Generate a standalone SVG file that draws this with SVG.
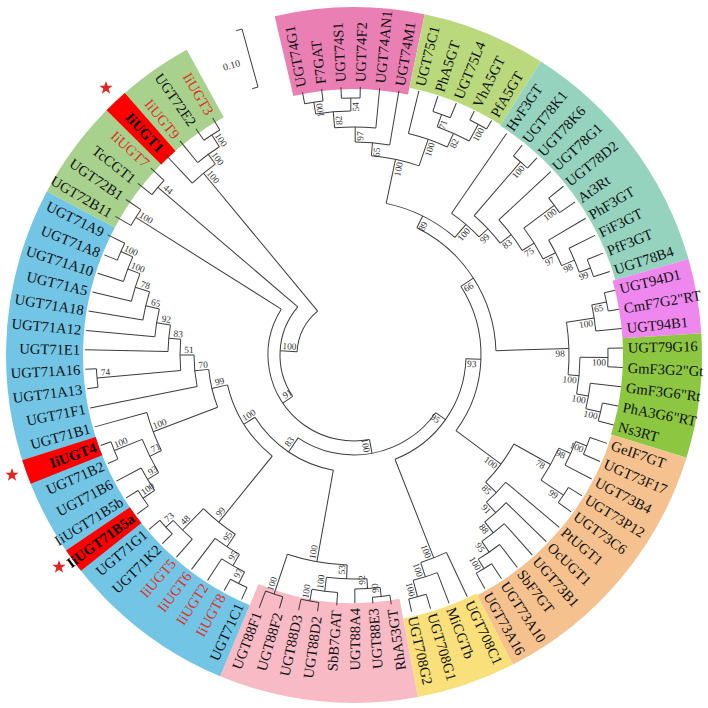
<svg xmlns="http://www.w3.org/2000/svg" width="708" height="708" viewBox="0 0 708 708">
<defs>
<style>
.c{fill:none;stroke:#3c3c3c;stroke-width:1}
.band{fill:none}
.t{font-family:"Liberation Serif","Times New Roman",serif;font-size:14.6px;fill:#111;dominant-baseline:central}
.f{text-anchor:end}
.r{fill:#dc3228}
.hb{font-weight:bold;fill:#000}
.bs{font-family:"Liberation Serif","Times New Roman",serif;font-size:9.4px;fill:#333;text-anchor:middle;dominant-baseline:central}
</style>
<polygon id="star" points="0,-7 1.65,-2.27 6.66,-2.16 2.66,0.87 4.11,5.66 0,2.8 -4.11,5.66 -2.66,0.87 -6.66,-2.16 -1.65,-2.27" fill="#e3231f"/>
</defs>
<rect width="708" height="708" fill="#fff"/>
<g id="bands" transform="translate(354,355)" class="band">
<circle r="307" stroke-width="82" stroke="#e97fb2" pathLength="360" stroke-dasharray="24.9 360" transform="rotate(-103.175)"/>
<circle r="310.5" stroke-width="75" stroke="#b9d97c" pathLength="360" stroke-dasharray="20.75 360" transform="rotate(-78.275)"/>
<circle r="310" stroke-width="76" stroke="#95d3bf" pathLength="360" stroke-dasharray="41.5 360" transform="rotate(-57.525)"/>
<circle r="308.5" stroke-width="79" stroke="#ee88ee" pathLength="360" stroke-dasharray="12.45 360" transform="rotate(-16.025)"/>
<circle r="308.5" stroke-width="79" stroke="#8dc641" pathLength="360" stroke-dasharray="20.75 360" transform="rotate(-3.575)"/>
<circle r="309" stroke-width="78" stroke="#f5c18e" pathLength="360" stroke-dasharray="45.65 360" transform="rotate(17.175)"/>
<circle r="308" stroke-width="80" stroke="#f9e07a" pathLength="360" stroke-dasharray="16.6 360" transform="rotate(62.825)"/>
<circle r="298" stroke-width="100" stroke="#f8bac5" pathLength="360" stroke-dasharray="33.2 360" transform="rotate(79.425)"/>
<circle r="309.5" stroke-width="77" stroke="#72c5e5" pathLength="360" stroke-dasharray="95.45 360" transform="rotate(112.625)"/>
<circle r="309.5" stroke-width="77" stroke="#a9d18e" pathLength="360" stroke-dasharray="33.2 360" transform="rotate(208.075)"/>
</g>
<g id="highlights" transform="translate(354,355)" class="band">
<circle r="309.5" stroke-width="77" stroke="#ff0000" pathLength="360" stroke-dasharray="4.15 360" transform="rotate(224.675)"/>
<circle r="309.5" stroke-width="77" stroke="#ff0000" pathLength="360" stroke-dasharray="4.15 360" transform="rotate(158.275)"/>
<circle r="309.5" stroke-width="77" stroke="#ff0000" pathLength="360" stroke-dasharray="4.15 360" transform="rotate(141.675)"/>
</g>
<g id="connectors" class="c" transform="translate(354,355)">
<circle r="256" pathLength="360" stroke-dasharray="4.15 360" transform="rotate(-101.1)"/>
<circle r="257" pathLength="360" stroke-dasharray="4.15 360" transform="rotate(-92.8)"/>
<circle r="244" pathLength="360" stroke-dasharray="8.3 360" transform="rotate(-99.03)"/>
<circle r="228" pathLength="360" stroke-dasharray="10.38 360" transform="rotate(-94.88)"/>
<circle r="213" pathLength="360" stroke-dasharray="9.34 360" transform="rotate(-89.69)"/>
<circle r="256" pathLength="360" stroke-dasharray="4.15 360" transform="rotate(-72.05)"/>
<circle r="262" pathLength="360" stroke-dasharray="4.15 360" transform="rotate(-63.75)"/>
<circle r="243" pathLength="360" stroke-dasharray="8.3 360" transform="rotate(-69.98)"/>
<circle r="228" pathLength="360" stroke-dasharray="10.37 360" transform="rotate(-76.2)"/>
<circle r="200" pathLength="360" stroke-dasharray="14 360" transform="rotate(-85.02)"/>
<circle r="252" pathLength="360" stroke-dasharray="4.15 360" transform="rotate(-22.25)"/>
<circle r="240" pathLength="360" stroke-dasharray="6.22 360" transform="rotate(-26.4)"/>
<circle r="226" pathLength="360" stroke-dasharray="7.26 360" transform="rotate(-30.55)"/>
<circle r="250" pathLength="360" stroke-dasharray="4.15 360" transform="rotate(-38.85)"/>
<circle r="212" pathLength="360" stroke-dasharray="9.86 360" transform="rotate(-36.78)"/>
<circle r="198" pathLength="360" stroke-dasharray="11.15 360" transform="rotate(-43)"/>
<circle r="255" pathLength="360" stroke-dasharray="4.15 360" transform="rotate(-51.3)"/>
<circle r="184" pathLength="360" stroke-dasharray="11.8 360" transform="rotate(-49.23)"/>
<circle r="172" pathLength="360" stroke-dasharray="12.12 360" transform="rotate(-55.45)"/>
<circle r="155" pathLength="360" stroke-dasharray="28.63 360" transform="rotate(-78.02)"/>
<circle r="258" pathLength="360" stroke-dasharray="4.15 360" transform="rotate(-13.95)"/>
<circle r="243" pathLength="360" stroke-dasharray="6.23 360" transform="rotate(-11.88)"/>
<circle r="254" pathLength="360" stroke-dasharray="4.15 360" transform="rotate(-1.5)"/>
<circle r="253" pathLength="360" stroke-dasharray="4.15 360" transform="rotate(10.95)"/>
<circle r="238" pathLength="360" stroke-dasharray="6.23 360" transform="rotate(6.8)"/>
<circle r="226" pathLength="360" stroke-dasharray="9.34 360" transform="rotate(0.58)"/>
<circle r="215" pathLength="360" stroke-dasharray="14.02 360" transform="rotate(-8.77)"/>
<circle r="142" pathLength="360" stroke-dasharray="61.95 360" transform="rotate(-63.71)"/>
<circle r="250" pathLength="360" stroke-dasharray="4.15 360" transform="rotate(19.25)"/>
<circle r="238" pathLength="360" stroke-dasharray="6.22 360" transform="rotate(21.33)"/>
<circle r="252" pathLength="360" stroke-dasharray="4.15 360" transform="rotate(31.7)"/>
<circle r="225" pathLength="360" stroke-dasharray="9.34 360" transform="rotate(24.44)"/>
<circle r="250" pathLength="360" stroke-dasharray="4.15 360" transform="rotate(56.6)"/>
<circle r="239" pathLength="360" stroke-dasharray="6.23 360" transform="rotate(52.45)"/>
<circle r="226" pathLength="360" stroke-dasharray="7.26 360" transform="rotate(48.3)"/>
<circle r="212" pathLength="360" stroke-dasharray="7.78 360" transform="rotate(44.15)"/>
<circle r="198" pathLength="360" stroke-dasharray="8.04 360" transform="rotate(40)"/>
<circle r="183" pathLength="360" stroke-dasharray="14.91 360" transform="rotate(29.11)"/>
<circle r="127" pathLength="360" stroke-dasharray="69.31 360" transform="rotate(-32.74)"/>
<circle r="250" pathLength="360" stroke-dasharray="4.15 360" transform="rotate(73.2)"/>
<circle r="233" pathLength="360" stroke-dasharray="6.23 360" transform="rotate(69.05)"/>
<circle r="218" pathLength="360" stroke-dasharray="7.27 360" transform="rotate(64.9)"/>
<circle r="112" pathLength="360" stroke-dasharray="66.61 360" transform="rotate(1.92)"/>
<circle r="243" pathLength="360" stroke-dasharray="4.15 360" transform="rotate(81.5)"/>
<circle r="234" pathLength="360" stroke-dasharray="6.22 360" transform="rotate(83.58)"/>
<circle r="250" pathLength="360" stroke-dasharray="4.15 360" transform="rotate(98.1)"/>
<circle r="238" pathLength="360" stroke-dasharray="6.23 360" transform="rotate(93.95)"/>
<circle r="224" pathLength="360" stroke-dasharray="10.38 360" transform="rotate(86.69)"/>
<circle r="252" pathLength="360" stroke-dasharray="4.15 360" transform="rotate(106.4)"/>
<circle r="210" pathLength="360" stroke-dasharray="16.6 360" transform="rotate(91.88)"/>
<circle r="256" pathLength="360" stroke-dasharray="4.15 360" transform="rotate(114.7)"/>
<circle r="243" pathLength="360" stroke-dasharray="6.22 360" transform="rotate(116.78)"/>
<circle r="230" pathLength="360" stroke-dasharray="7.26 360" transform="rotate(119.89)"/>
<circle r="255" pathLength="360" stroke-dasharray="4.15 360" transform="rotate(135.45)"/>
<circle r="245" pathLength="360" stroke-dasharray="6.23 360" transform="rotate(131.3)"/>
<circle r="215" pathLength="360" stroke-dasharray="10.9 360" transform="rotate(123.52)"/>
<circle r="255" pathLength="360" stroke-dasharray="4.15 360" transform="rotate(143.75)"/>
<circle r="241" pathLength="360" stroke-dasharray="6.22 360" transform="rotate(145.83)"/>
<circle r="258" pathLength="360" stroke-dasharray="4.15 360" transform="rotate(156.2)"/>
<circle r="228" pathLength="360" stroke-dasharray="9.34 360" transform="rotate(148.94)"/>
<circle r="215" pathLength="360" stroke-dasharray="10.89 360" transform="rotate(153.61)"/>
<circle r="255" pathLength="360" stroke-dasharray="4.15 360" transform="rotate(201.85)"/>
<circle r="242" pathLength="360" stroke-dasharray="6.23 360" transform="rotate(197.7)"/>
<circle r="229" pathLength="360" stroke-dasharray="7.27 360" transform="rotate(193.55)"/>
<circle r="214" pathLength="360" stroke-dasharray="7.79 360" transform="rotate(189.4)"/>
<circle r="200" pathLength="360" stroke-dasharray="8.05 360" transform="rotate(185.25)"/>
<circle r="186" pathLength="360" stroke-dasharray="8.18 360" transform="rotate(181.1)"/>
<circle r="258" pathLength="360" stroke-dasharray="4.15 360" transform="rotate(172.8)"/>
<circle r="174" pathLength="360" stroke-dasharray="10.31 360" transform="rotate(174.88)"/>
<circle r="160" pathLength="360" stroke-dasharray="11.39 360" transform="rotate(168.65)"/>
<circle r="146" pathLength="360" stroke-dasharray="15.29 360" transform="rotate(159.06)"/>
<circle r="130" pathLength="360" stroke-dasharray="37.74 360" transform="rotate(128.97)"/>
<circle r="117" pathLength="360" stroke-dasharray="47.66 360" transform="rotate(100.18)"/>
<circle r="100" pathLength="360" stroke-dasharray="88.78 360" transform="rotate(35.23)"/>
<circle r="262" pathLength="360" stroke-dasharray="4.15 360" transform="rotate(235.05)"/>
<circle r="248" pathLength="360" stroke-dasharray="6.23 360" transform="rotate(230.9)"/>
<circle r="236" pathLength="360" stroke-dasharray="7.26 360" transform="rotate(226.75)"/>
<circle r="258" pathLength="360" stroke-dasharray="4.15 360" transform="rotate(218.45)"/>
<circle r="258" pathLength="360" stroke-dasharray="4.15 360" transform="rotate(210.15)"/>
<circle r="86" pathLength="360" stroke-dasharray="132.61 360" transform="rotate(79.62)"/>
<circle r="74" pathLength="360" stroke-dasharray="74.6 360" transform="rotate(145.93)"/>
<circle r="57" pathLength="360" stroke-dasharray="47.15 360" transform="rotate(183.23)"/>
<line x1="256" x2="268" transform="rotate(-101.1)"/>
<line x1="256" x2="268" transform="rotate(-96.95)"/>
<line x1="257" x2="268" transform="rotate(-92.8)"/>
<line x1="257" x2="268" transform="rotate(-88.65)"/>
<line x1="228" x2="268" transform="rotate(-84.5)"/>
<line x1="213" x2="268" transform="rotate(-80.35)"/>
<line x1="228" x2="272" transform="rotate(-76.2)"/>
<line x1="256" x2="272" transform="rotate(-72.05)"/>
<line x1="256" x2="272" transform="rotate(-67.9)"/>
<line x1="262" x2="272" transform="rotate(-63.75)"/>
<line x1="262" x2="272" transform="rotate(-59.6)"/>
<line x1="172" x2="269" transform="rotate(-55.45)"/>
<line x1="255" x2="269" transform="rotate(-51.3)"/>
<line x1="255" x2="269" transform="rotate(-47.15)"/>
<line x1="198" x2="269" transform="rotate(-43)"/>
<line x1="250" x2="269" transform="rotate(-38.85)"/>
<line x1="250" x2="269" transform="rotate(-34.7)"/>
<line x1="226" x2="269" transform="rotate(-30.55)"/>
<line x1="240" x2="269" transform="rotate(-26.4)"/>
<line x1="252" x2="269" transform="rotate(-22.25)"/>
<line x1="252" x2="269" transform="rotate(-18.1)"/>
<line x1="258" x2="269" transform="rotate(-13.95)"/>
<line x1="258" x2="269" transform="rotate(-9.8)"/>
<line x1="243" x2="269" transform="rotate(-5.65)"/>
<line x1="254" x2="269" transform="rotate(-1.5)"/>
<line x1="254" x2="269" transform="rotate(2.65)"/>
<line x1="238" x2="269" transform="rotate(6.8)"/>
<line x1="253" x2="269" transform="rotate(10.95)"/>
<line x1="253" x2="269" transform="rotate(15.1)"/>
<line x1="250" x2="268" transform="rotate(19.25)"/>
<line x1="250" x2="268" transform="rotate(23.4)"/>
<line x1="238" x2="268" transform="rotate(27.55)"/>
<line x1="252" x2="268" transform="rotate(31.7)"/>
<line x1="252" x2="268" transform="rotate(35.85)"/>
<line x1="198" x2="268" transform="rotate(40)"/>
<line x1="212" x2="268" transform="rotate(44.15)"/>
<line x1="226" x2="268" transform="rotate(48.3)"/>
<line x1="239" x2="268" transform="rotate(52.45)"/>
<line x1="250" x2="268" transform="rotate(56.6)"/>
<line x1="250" x2="268" transform="rotate(60.75)"/>
<line x1="218" x2="267" transform="rotate(64.9)"/>
<line x1="233" x2="266" transform="rotate(69.05)"/>
<line x1="250" x2="265" transform="rotate(73.2)"/>
<line x1="250" x2="263" transform="rotate(77.35)"/>
<line x1="243" x2="252" transform="rotate(81.5)"/>
<line x1="243" x2="249" transform="rotate(85.65)"/>
<line x1="234" x2="248" transform="rotate(89.8)"/>
<line x1="238" x2="251" transform="rotate(93.95)"/>
<line x1="250" x2="259" transform="rotate(98.1)"/>
<line x1="250" x2="261" transform="rotate(102.25)"/>
<line x1="252" x2="264" transform="rotate(106.4)"/>
<line x1="252" x2="270" transform="rotate(110.55)"/>
<line x1="256" x2="269" transform="rotate(114.7)"/>
<line x1="256" x2="269" transform="rotate(118.85)"/>
<line x1="243" x2="269" transform="rotate(123)"/>
<line x1="230" x2="269" transform="rotate(127.15)"/>
<line x1="245" x2="269" transform="rotate(131.3)"/>
<line x1="255" x2="269" transform="rotate(135.45)"/>
<line x1="255" x2="269" transform="rotate(139.6)"/>
<line x1="255" x2="269" transform="rotate(143.75)"/>
<line x1="255" x2="269" transform="rotate(147.9)"/>
<line x1="241" x2="269" transform="rotate(152.05)"/>
<line x1="258" x2="269" transform="rotate(156.2)"/>
<line x1="258" x2="269" transform="rotate(160.35)"/>
<line x1="215" x2="269" transform="rotate(164.5)"/>
<line x1="160" x2="269" transform="rotate(168.65)"/>
<line x1="258" x2="269" transform="rotate(172.8)"/>
<line x1="258" x2="269" transform="rotate(176.95)"/>
<line x1="186" x2="269" transform="rotate(181.1)"/>
<line x1="200" x2="269" transform="rotate(185.25)"/>
<line x1="214" x2="269" transform="rotate(189.4)"/>
<line x1="229" x2="269" transform="rotate(193.55)"/>
<line x1="242" x2="269" transform="rotate(197.7)"/>
<line x1="255" x2="269" transform="rotate(201.85)"/>
<line x1="255" x2="274" transform="rotate(206)"/>
<line x1="258" x2="276" transform="rotate(210.15)"/>
<line x1="258" x2="276" transform="rotate(214.3)"/>
<line x1="258" x2="276" transform="rotate(218.45)"/>
<line x1="258" x2="276" transform="rotate(222.6)"/>
<line x1="236" x2="276" transform="rotate(226.75)"/>
<line x1="248" x2="276" transform="rotate(230.9)"/>
<line x1="262" x2="276" transform="rotate(235.05)"/>
<line x1="262" x2="276" transform="rotate(239.2)"/>
<line x1="244" x2="256" transform="rotate(-99.03)"/>
<line x1="244" x2="257" transform="rotate(-90.73)"/>
<line x1="228" x2="244" transform="rotate(-94.88)"/>
<line x1="213" x2="228" transform="rotate(-89.69)"/>
<line x1="200" x2="213" transform="rotate(-85.02)"/>
<line x1="243" x2="256" transform="rotate(-69.98)"/>
<line x1="243" x2="262" transform="rotate(-61.68)"/>
<line x1="228" x2="243" transform="rotate(-65.83)"/>
<line x1="200" x2="228" transform="rotate(-71.02)"/>
<line x1="155" x2="200" transform="rotate(-78.02)"/>
<line x1="240" x2="252" transform="rotate(-20.18)"/>
<line x1="226" x2="240" transform="rotate(-23.29)"/>
<line x1="212" x2="226" transform="rotate(-26.92)"/>
<line x1="212" x2="250" transform="rotate(-36.78)"/>
<line x1="198" x2="212" transform="rotate(-31.85)"/>
<line x1="184" x2="198" transform="rotate(-37.43)"/>
<line x1="184" x2="255" transform="rotate(-49.23)"/>
<line x1="172" x2="184" transform="rotate(-43.33)"/>
<line x1="155" x2="172" transform="rotate(-49.39)"/>
<line x1="142" x2="155" transform="rotate(-63.71)"/>
<line x1="243" x2="258" transform="rotate(-11.88)"/>
<line x1="215" x2="243" transform="rotate(-8.77)"/>
<line x1="226" x2="254" transform="rotate(0.58)"/>
<line x1="238" x2="253" transform="rotate(13.03)"/>
<line x1="226" x2="238" transform="rotate(9.92)"/>
<line x1="215" x2="226" transform="rotate(5.25)"/>
<line x1="142" x2="215" transform="rotate(-1.76)"/>
<line x1="127" x2="142" transform="rotate(-32.74)"/>
<line x1="238" x2="250" transform="rotate(21.33)"/>
<line x1="225" x2="238" transform="rotate(24.44)"/>
<line x1="225" x2="252" transform="rotate(33.78)"/>
<line x1="183" x2="225" transform="rotate(29.11)"/>
<line x1="239" x2="250" transform="rotate(58.68)"/>
<line x1="226" x2="239" transform="rotate(55.56)"/>
<line x1="212" x2="226" transform="rotate(51.93)"/>
<line x1="198" x2="212" transform="rotate(48.04)"/>
<line x1="183" x2="198" transform="rotate(44.02)"/>
<line x1="127" x2="183" transform="rotate(36.57)"/>
<line x1="112" x2="127" transform="rotate(1.92)"/>
<line x1="233" x2="250" transform="rotate(75.28)"/>
<line x1="218" x2="233" transform="rotate(72.17)"/>
<line x1="112" x2="218" transform="rotate(68.53)"/>
<line x1="100" x2="112" transform="rotate(35.23)"/>
<line x1="234" x2="243" transform="rotate(83.58)"/>
<line x1="224" x2="234" transform="rotate(86.69)"/>
<line x1="238" x2="250" transform="rotate(100.18)"/>
<line x1="224" x2="238" transform="rotate(97.07)"/>
<line x1="210" x2="224" transform="rotate(91.88)"/>
<line x1="210" x2="252" transform="rotate(108.48)"/>
<line x1="117" x2="210" transform="rotate(100.18)"/>
<line x1="243" x2="256" transform="rotate(116.78)"/>
<line x1="230" x2="243" transform="rotate(119.89)"/>
<line x1="215" x2="230" transform="rotate(123.52)"/>
<line x1="245" x2="255" transform="rotate(137.53)"/>
<line x1="215" x2="245" transform="rotate(134.42)"/>
<line x1="130" x2="215" transform="rotate(128.97)"/>
<line x1="241" x2="255" transform="rotate(145.83)"/>
<line x1="228" x2="241" transform="rotate(148.94)"/>
<line x1="228" x2="258" transform="rotate(158.28)"/>
<line x1="215" x2="228" transform="rotate(153.61)"/>
<line x1="146" x2="215" transform="rotate(159.06)"/>
<line x1="242" x2="255" transform="rotate(203.93)"/>
<line x1="229" x2="242" transform="rotate(200.82)"/>
<line x1="214" x2="229" transform="rotate(197.19)"/>
<line x1="200" x2="214" transform="rotate(193.3)"/>
<line x1="186" x2="200" transform="rotate(189.28)"/>
<line x1="174" x2="186" transform="rotate(185.19)"/>
<line x1="174" x2="258" transform="rotate(174.88)"/>
<line x1="160" x2="174" transform="rotate(180.04)"/>
<line x1="146" x2="160" transform="rotate(174.35)"/>
<line x1="130" x2="146" transform="rotate(166.71)"/>
<line x1="117" x2="130" transform="rotate(147.84)"/>
<line x1="100" x2="117" transform="rotate(124.01)"/>
<line x1="86" x2="100" transform="rotate(79.62)"/>
<line x1="248" x2="262" transform="rotate(237.13)"/>
<line x1="236" x2="248" transform="rotate(234.01)"/>
<line x1="57" x2="236" transform="rotate(230.38)"/>
<line x1="74" x2="258" transform="rotate(220.53)"/>
<line x1="86" x2="258" transform="rotate(212.23)"/>
<line x1="74" x2="86" transform="rotate(145.93)"/>
<line x1="57" x2="74" transform="rotate(183.23)"/>
</g>
<g id="bootstrap" class="bs" transform="translate(354,355)">
<text transform="rotate(-99.03) translate(247,5)">100</text>
<text transform="rotate(-90.73) translate(248,5)">54</text>
<text transform="rotate(-94.88) translate(235,5)">82</text>
<text transform="rotate(-89.69) translate(219,5)">97</text>
<text transform="rotate(-85.02) translate(204,5)">65</text>
<text transform="rotate(-69.98) translate(247,5)">71</text>
<text transform="rotate(-61.68) translate(253,5)">100</text>
<text transform="rotate(-65.83) translate(234,5)">82</text>
<text transform="rotate(-71.02) translate(219,5)">100</text>
<text transform="rotate(-78.02) translate(191,5)">100</text>
<text transform="rotate(-20.18) translate(243,5)">99</text>
<text transform="rotate(-23.29) translate(231,5)">98</text>
<text transform="rotate(-26.92) translate(217,5)">97</text>
<text transform="rotate(-36.78) translate(241,5)">100</text>
<text transform="rotate(-31.85) translate(203,5)">75</text>
<text transform="rotate(-37.43) translate(189,5)">83</text>
<text transform="rotate(-49.23) translate(246,5)">100</text>
<text transform="rotate(-43.33) translate(175,5)">99</text>
<text transform="rotate(-49.39) translate(163,5)">100</text>
<text transform="rotate(-63.71) translate(146,5)">89</text>
<text transform="rotate(-11.88) translate(249,5)">65</text>
<text transform="rotate(-8.77) translate(234,5)">100</text>
<text transform="rotate(0.58) translate(245,5)">100</text>
<text transform="rotate(13.03) translate(244,5)">100</text>
<text transform="rotate(9.92) translate(229,5)">100</text>
<text transform="rotate(5.25) translate(217,5)">100</text>
<text transform="rotate(-1.76) translate(206,5)">98</text>
<text transform="rotate(-32.74) translate(133,5)">66</text>
<text transform="rotate(21.33) translate(241,5)">100</text>
<text transform="rotate(24.44) translate(229,5)">98</text>
<text transform="rotate(33.78) translate(243,5)">99</text>
<text transform="rotate(29.11) translate(216,5)">78</text>
<text transform="rotate(58.68) translate(241,5)">100</text>
<text transform="rotate(55.56) translate(230,5)">95</text>
<text transform="rotate(51.93) translate(217,5)">88</text>
<text transform="rotate(48.04) translate(203,5)">91</text>
<text transform="rotate(44.02) translate(189,5)">85</text>
<text transform="rotate(36.57) translate(174,5)">100</text>
<text transform="rotate(1.92) translate(118,5)">93</text>
<text transform="rotate(75.28) translate(241,5)">100</text>
<text transform="rotate(72.17) translate(224,5)">100</text>
<text transform="rotate(68.53) translate(209,5)">100</text>
<text transform="rotate(35.23) translate(103,5)">95</text>
<text transform="rotate(79.62) translate(91,5)">100</text>
<text transform="rotate(83.58) translate(234,5) rotate(180)">90</text>
<text transform="rotate(86.69) translate(225,5) rotate(180)">92</text>
<text transform="rotate(100.18) translate(241,5) rotate(180)">100</text>
<text transform="rotate(97.07) translate(229,5) rotate(180)">100</text>
<text transform="rotate(91.88) translate(215,5) rotate(180)">53</text>
<text transform="rotate(108.48) translate(243,5) rotate(180)">100</text>
<text transform="rotate(100.18) translate(201,5) rotate(180)">100</text>
<text transform="rotate(116.78) translate(247,5) rotate(180)">97</text>
<text transform="rotate(119.89) translate(234,5) rotate(180)">95</text>
<text transform="rotate(123.52) translate(221,5) rotate(180)">95</text>
<text transform="rotate(137.53) translate(246,5) rotate(180)">73</text>
<text transform="rotate(134.42) translate(236,5) rotate(180)">48</text>
<text transform="rotate(128.97) translate(206,5) rotate(180)">99</text>
<text transform="rotate(145.83) translate(246,5) rotate(180)">100</text>
<text transform="rotate(148.94) translate(232,5) rotate(180)">93</text>
<text transform="rotate(158.28) translate(249,5) rotate(180)">100</text>
<text transform="rotate(153.61) translate(219,5) rotate(180)">71</text>
<text transform="rotate(159.06) translate(206,5) rotate(180)">100</text>
<text transform="rotate(203.93) translate(246,5) rotate(180)">100</text>
<text transform="rotate(200.82) translate(233,5) rotate(180)">100</text>
<text transform="rotate(197.19) translate(220,5) rotate(180)">78</text>
<text transform="rotate(193.3) translate(205,5) rotate(180)">65</text>
<text transform="rotate(189.28) translate(191,5) rotate(180)">92</text>
<text transform="rotate(185.19) translate(177,5) rotate(180)">83</text>
<text transform="rotate(174.88) translate(249,5) rotate(180)">74</text>
<text transform="rotate(180.04) translate(165,5) rotate(180)">51</text>
<text transform="rotate(174.35) translate(151,5) rotate(180)">70</text>
<text transform="rotate(166.71) translate(137,5) rotate(180)">99</text>
<text transform="rotate(147.84) translate(121,5) rotate(180)">100</text>
<text transform="rotate(124.01) translate(108,5) rotate(180)">83</text>
<text transform="rotate(237.13) translate(253,5) rotate(180)">100</text>
<text transform="rotate(234.01) translate(239,5) rotate(180)">100</text>
<text transform="rotate(230.38) translate(227,5) rotate(180)">100</text>
<text transform="rotate(220.53) translate(249,5) rotate(180)">44</text>
<text transform="rotate(212.23) translate(249,5) rotate(180)">100</text>
<text transform="rotate(145.93) translate(77,5) rotate(180)">91</text>
<text transform="rotate(183.23) translate(65,5) rotate(180)">100</text>
</g>
<g id="leaves" class="t" transform="translate(354,355)">
<g id="leaf0"><text transform="rotate(-101.1) translate(273,0)">UGT74G1</text></g>
<g id="leaf1"><text transform="rotate(-96.95) translate(273,0)">F7GAT</text></g>
<g id="leaf2"><text transform="rotate(-92.8) translate(273,0)">UGT74S1</text></g>
<g id="leaf3"><text transform="rotate(-88.65) translate(273,0)">UGT74F2</text></g>
<g id="leaf4"><text transform="rotate(-84.5) translate(273,0)">UGT74AN1</text></g>
<g id="leaf5"><text transform="rotate(-80.35) translate(273,0)">UGT74M1</text></g>
<g id="leaf6"><text transform="rotate(-76.2) translate(277,0)">UGT75C1</text></g>
<g id="leaf7"><text transform="rotate(-72.05) translate(277,0)">PhA5GT</text></g>
<g id="leaf8"><text transform="rotate(-67.9) translate(277,0)">UGT75L4</text></g>
<g id="leaf9"><text transform="rotate(-63.75) translate(277,0)">VhA5GT</text></g>
<g id="leaf10"><text transform="rotate(-59.6) translate(277,0)">PfA5GT</text></g>
<g id="leaf11"><text transform="rotate(-55.45) translate(274,0)">HvF3GT</text></g>
<g id="leaf12"><text transform="rotate(-51.3) translate(274,0)">UGT78K1</text></g>
<g id="leaf13"><text transform="rotate(-47.15) translate(274,0)">UGT78K6</text></g>
<g id="leaf14"><text transform="rotate(-43) translate(274,0)">UGT78G1</text></g>
<g id="leaf15"><text transform="rotate(-38.85) translate(274,0)">UGT78D2</text></g>
<g id="leaf16"><text transform="rotate(-34.7) translate(274,0)">At3Rt</text></g>
<g id="leaf17"><text transform="rotate(-30.55) translate(274,0)">PhF3GT</text></g>
<g id="leaf18"><text transform="rotate(-26.4) translate(274,0)">FiF3GT</text></g>
<g id="leaf19"><text transform="rotate(-22.25) translate(274,0)">PfF3GT</text></g>
<g id="leaf20"><text transform="rotate(-18.1) translate(274,0)">UGT78B4</text></g>
<g id="leaf21"><text transform="rotate(-13.95) translate(274,0)">UGT94D1</text></g>
<g id="leaf22"><text transform="rotate(-9.8) translate(274,0)">CmF7G2"RT</text></g>
<g id="leaf23"><text transform="rotate(-5.65) translate(274,0)">UGT94B1</text></g>
<g id="leaf24"><text transform="rotate(-1.5) translate(274,0)">UGT79G16</text></g>
<g id="leaf25"><text transform="rotate(2.65) translate(274,0)">GmF3G2"Gt</text></g>
<g id="leaf26"><text transform="rotate(6.8) translate(274,0)">GmF3G6"Rt</text></g>
<g id="leaf27"><text transform="rotate(10.95) translate(274,0)">PhA3G6"RT</text></g>
<g id="leaf28"><text transform="rotate(15.1) translate(274,0)">Ns3RT</text></g>
<g id="leaf29"><text transform="rotate(19.25) translate(273,0)">GeIF7GT</text></g>
<g id="leaf30"><text transform="rotate(23.4) translate(273,0)">UGT73F17</text></g>
<g id="leaf31"><text transform="rotate(27.55) translate(273,0)">UGT73B4</text></g>
<g id="leaf32"><text transform="rotate(31.7) translate(273,0)">UGT73P12</text></g>
<g id="leaf33"><text transform="rotate(35.85) translate(273,0)">UGT73C6</text></g>
<g id="leaf34"><text transform="rotate(40) translate(273,0)">PtUGT1</text></g>
<g id="leaf35"><text transform="rotate(44.15) translate(273,0)">OcUGT1</text></g>
<g id="leaf36"><text transform="rotate(48.3) translate(273,0)">UGT73B1</text></g>
<g id="leaf37"><text transform="rotate(52.45) translate(273,0)">SbF7GT</text></g>
<g id="leaf38"><text transform="rotate(56.6) translate(273,0)">UGT73A10</text></g>
<g id="leaf39"><text transform="rotate(60.75) translate(273,0)">UGT73A16</text></g>
<g id="leaf40"><text transform="rotate(64.9) translate(272,0)">UGT708C1</text></g>
<g id="leaf41"><text transform="rotate(69.05) translate(271,0)">MiCGTb</text></g>
<g id="leaf42"><text transform="rotate(73.2) translate(270,0)">UGT708G1</text></g>
<g id="leaf43"><text transform="rotate(77.35) translate(268,0)">UGT708G2</text></g>
<g id="leaf44"><text class="f" transform="rotate(81.5) translate(257,0) rotate(180)">RhA53GT</text></g>
<g id="leaf45"><text class="f" transform="rotate(85.65) translate(254,0) rotate(180)">UGT88E3</text></g>
<g id="leaf46"><text class="f" transform="rotate(89.8) translate(253,0) rotate(180)">UGT88A4</text></g>
<g id="leaf47"><text class="f" transform="rotate(93.95) translate(256,0) rotate(180)">SbB7GAT</text></g>
<g id="leaf48"><text class="f" transform="rotate(98.1) translate(264,0) rotate(180)">UGT88D2</text></g>
<g id="leaf49"><text class="f" transform="rotate(102.25) translate(266,0) rotate(180)">UGT88D3</text></g>
<g id="leaf50"><text class="f" transform="rotate(106.4) translate(269,0) rotate(180)">UGT88F2</text></g>
<g id="leaf51"><text class="f" transform="rotate(110.55) translate(275,0) rotate(180)">UGT88F1</text></g>
<g id="leaf52"><text class="f" transform="rotate(114.7) translate(274,0) rotate(180)">UGT71C1</text></g>
<g id="leaf53"><text class="f r" transform="rotate(118.85) translate(274,0) rotate(180)">IiUGT8</text></g>
<g id="leaf54"><text class="f r" transform="rotate(123) translate(274,0) rotate(180)">IiUGT2</text></g>
<g id="leaf55"><text class="f r" transform="rotate(127.15) translate(274,0) rotate(180)">IiUGT6</text></g>
<g id="leaf56"><text class="f r" transform="rotate(131.3) translate(274,0) rotate(180)">IiUGT5</text></g>
<g id="leaf57"><text class="f" transform="rotate(135.45) translate(274,0) rotate(180)">UGT71K2</text></g>
<g id="leaf58"><text class="f" transform="rotate(139.6) translate(274,0) rotate(180)">UGT71G1</text></g>
<g id="leaf59"><text class="f hb" transform="rotate(143.75) translate(274,0) rotate(180)">IiUGT71B5a</text></g>
<g id="leaf60"><text class="f" transform="rotate(147.9) translate(274,0) rotate(180)">IiUGT71B5b</text></g>
<g id="leaf61"><text class="f" transform="rotate(152.05) translate(274,0) rotate(180)">UGT71B6</text></g>
<g id="leaf62"><text class="f" transform="rotate(156.2) translate(274,0) rotate(180)">UGT71B2</text></g>
<g id="leaf63"><text class="f hb" transform="rotate(160.35) translate(274,0) rotate(180)">IiUGT4</text></g>
<g id="leaf64"><text class="f" transform="rotate(164.5) translate(274,0) rotate(180)">UGT71B1</text></g>
<g id="leaf65"><text class="f" transform="rotate(168.65) translate(274,0) rotate(180)">UGT71F1</text></g>
<g id="leaf66"><text class="f" transform="rotate(172.8) translate(274,0) rotate(180)">UGT71A13</text></g>
<g id="leaf67"><text class="f" transform="rotate(176.95) translate(274,0) rotate(180)">UGT71A16</text></g>
<g id="leaf68"><text class="f" transform="rotate(181.1) translate(274,0) rotate(180)">UGT71E1</text></g>
<g id="leaf69"><text class="f" transform="rotate(185.25) translate(274,0) rotate(180)">UGT71A12</text></g>
<g id="leaf70"><text class="f" transform="rotate(189.4) translate(274,0) rotate(180)">UGT71A18</text></g>
<g id="leaf71"><text class="f" transform="rotate(193.55) translate(274,0) rotate(180)">UGT71A5</text></g>
<g id="leaf72"><text class="f" transform="rotate(197.7) translate(274,0) rotate(180)">UGT71A10</text></g>
<g id="leaf73"><text class="f" transform="rotate(201.85) translate(274,0) rotate(180)">UGT71A8</text></g>
<g id="leaf74"><text class="f" transform="rotate(206) translate(279,0) rotate(180)">UGT71A9</text></g>
<g id="leaf75"><text class="f" transform="rotate(210.15) translate(281,0) rotate(180)">UGT72B11</text></g>
<g id="leaf76"><text class="f" transform="rotate(214.3) translate(281,0) rotate(180)">UGT72B1</text></g>
<g id="leaf77"><text class="f" transform="rotate(218.45) translate(281,0) rotate(180)">TcCGT1</text></g>
<g id="leaf78"><text class="f r" transform="rotate(222.6) translate(281,0) rotate(180)">IiUGT7</text></g>
<g id="leaf79"><text class="f hb" transform="rotate(226.75) translate(281,0) rotate(180)">IiUGT1</text></g>
<g id="leaf80"><text class="f r" transform="rotate(230.9) translate(281,0) rotate(180)">IiUGT9</text></g>
<g id="leaf81"><text class="f" transform="rotate(235.05) translate(281,0) rotate(180)">UGT72E2</text></g>
<g id="leaf82"><text class="f r" transform="rotate(239.2) translate(281,0) rotate(180)">IiUGT3</text></g>
</g>
<g id="stars">
<use href="#star" x="106" y="88"/>
<use href="#star" x="12" y="475"/>
<use href="#star" x="59" y="567"/>
</g>
<g id="scale">
<path d="M236.2,30.7 L242,29 L258,87 L252.2,88.7" fill="none" stroke="#3c3c3c" stroke-width="1"/>
<text x="231.5" y="65" transform="rotate(-16 231.5 65)" font-family="Liberation Serif, serif" font-size="10" fill="#333" text-anchor="middle" dominant-baseline="central">0.10</text>
</g>
</svg>
